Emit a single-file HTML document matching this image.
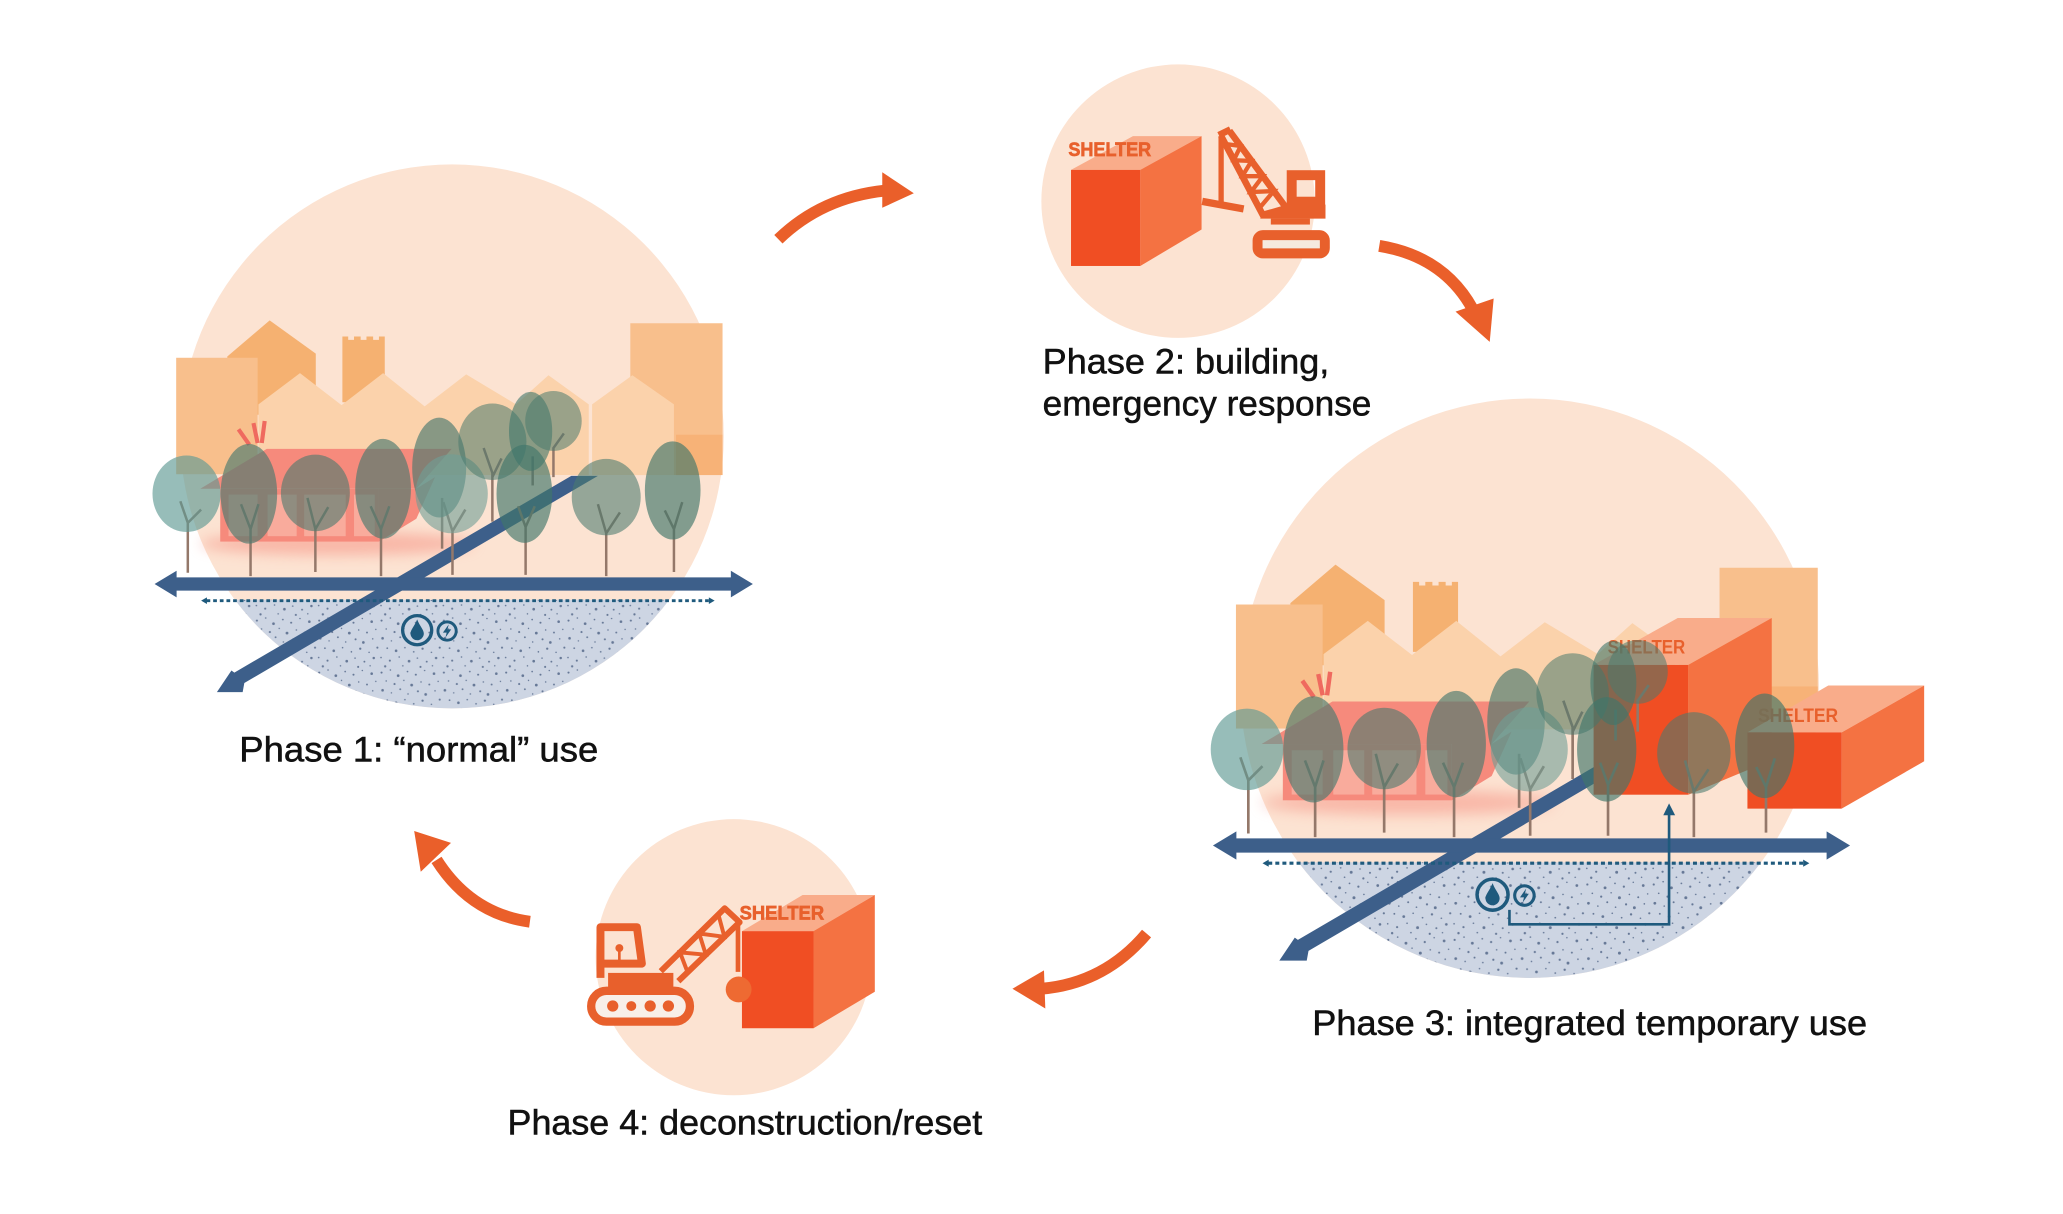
<!DOCTYPE html>
<html><head><meta charset="utf-8"><style>
html,body{margin:0;padding:0;background:#fff;width:2063px;height:1214px;overflow:hidden}
svg{display:block}
text{font-family:"Liberation Sans",sans-serif}
.lbl{font-size:27px;fill:#111;stroke:#111;stroke-width:.4}
.sh{font-weight:bold;fill:#e8602c}
</style></head><body>
<svg xmlns="http://www.w3.org/2000/svg" width="2063" height="1214" viewBox="0 0 1569 923.3">
<defs>
<filter id="blur" x="-30%" y="-100%" width="160%" height="300%"><feGaussianBlur stdDeviation="16"/></filter>
<pattern id="dots" width="120" height="100" patternUnits="userSpaceOnUse" patternTransform="scale(1.25)">
<rect width="120" height="100" fill="#cdd5e3"/>
<g fill="#3e5479" opacity=".72">
<circle cx="5" cy="8" r="2"/><circle cx="22" cy="3" r="1.5"/><circle cx="37" cy="14" r="2.6"/><circle cx="55" cy="6" r="1.6"/><circle cx="71" cy="12" r="2"/><circle cx="88" cy="4" r="1.4"/><circle cx="106" cy="10" r="2.5"/>
<circle cx="14" cy="24" r="1.5"/><circle cx="30" cy="30" r="2"/><circle cx="48" cy="23" r="1.4"/><circle cx="63" cy="32" r="2.7"/><circle cx="81" cy="26" r="1.5"/><circle cx="97" cy="31" r="1.8"/><circle cx="114" cy="25" r="1.4"/>
<circle cx="7" cy="42" r="2.5"/><circle cx="24" cy="47" r="1.4"/><circle cx="41" cy="40" r="1.8"/><circle cx="56" cy="49" r="1.5"/><circle cx="75" cy="44" r="2"/><circle cx="90" cy="50" r="2.6"/><circle cx="108" cy="43" r="1.5"/>
<circle cx="16" cy="61" r="1.7"/><circle cx="33" cy="66" r="2.5"/><circle cx="50" cy="60" r="1.5"/><circle cx="67" cy="68" r="1.6"/><circle cx="84" cy="62" r="2.2"/><circle cx="101" cy="69" r="1.5"/><circle cx="117" cy="60" r="2"/>
<circle cx="4" cy="79" r="1.5"/><circle cx="21" cy="85" r="2"/><circle cx="39" cy="78" r="1.5"/><circle cx="58" cy="86" r="2.6"/><circle cx="74" cy="80" r="1.5"/><circle cx="92" cy="87" r="1.8"/><circle cx="110" cy="80" r="2.4"/>
<circle cx="12" cy="96" r="2.2"/><circle cx="46" cy="95" r="1.5"/><circle cx="80" cy="97" r="2"/><circle cx="103" cy="95" r="1.4"/>
</g>
</pattern>
<clipPath id="circ"><circle cx="776" cy="692" r="654"/></clipPath>

<g id="bg">
<circle cx="776" cy="692" r="654" fill="#fce3d2"/>
<rect x="100" y="1085" width="1360" height="300" fill="url(#dots)" clip-path="url(#circ)"/>
</g>

<g id="city">
<polygon points="235,500 337,413 448,493 448,640 235,640" fill="#f5b171"/>
<path d="M512,610V452h14v8h14v-8h16v8h14v-8h16v8h14v-8h14V610Z" fill="#f5b171"/>
<polygon points="310,615 410,540 510,617 610,540 710,620 810,543 930,615 1008,545 1105,615 1105,785 310,785" fill="#fbd2ab"/>
<rect x="112" y="503" width="196" height="280" fill="#f8bf8c"/>
<rect x="1205" y="420" width="222" height="365" fill="#f8bf8c"/>
<polygon points="1113,615 1210,545 1310,615 1310,785 1113,785" fill="#fbd2ab"/>
<rect x="1315" y="688" width="112" height="97" fill="#f7b277"/>
<ellipse cx="500" cy="950" rx="330" ry="28" fill="#f58a7c" opacity=".5" filter="url(#blur)"/>
<polygon points="170,818 330,722 775,722 690,818" fill="#f68a7c"/>
<polygon points="600,945 690,890 735,790 690,818 600,818" fill="#f68a7c"/>
<rect x="218" y="818" width="382" height="127" fill="#f68a7c"/>
<g fill="#f9ab9c"><rect x="238" y="832" width="70" height="100"/><rect x="332" y="832" width="70" height="100"/><rect x="420" y="832" width="100" height="100"/><rect x="540" y="832" width="50" height="100"/></g>
<g stroke="#ef6a5f" stroke-width="10" fill="none"><path d="M262,675 288,712M298,660 308,708M325,655 318,708"/></g>
</g>

<polygon id="diag" points="1063,787 1127,787 276,1285 272,1307 210,1307 245,1255 252,1260" fill="#3d5f8a"/>

<g id="trees">
<g stroke="#94786a" stroke-width="6" fill="none">
<path d="M140,1020V900L122,848M140,900L172,868"/>
<path d="M291,1028V915L268,855M291,915L310,855"/>
<path d="M447,1018V915L428,840M447,915L478,862"/>
<path d="M605,1028V915L580,860M605,915L625,860"/>
<path d="M752,962V840"/>
<path d="M777,1025V920L755,850M777,920L808,868"/>
<path d="M873,897V780L852,720M873,790L895,745"/>
<path d="M953,1025V910L935,860M953,910L975,860"/>
<path d="M970,810V740"/>
<path d="M1020,790V720L1045,685"/>
<path d="M1147,1028V925L1127,855M1147,925L1180,875"/>
<path d="M1310,1018V915L1288,870M1310,915L1330,850"/>
</g>
<ellipse cx="137" cy="830" rx="82" ry="92" fill="#5f9a94" opacity=".65"/>
<ellipse cx="287" cy="830" rx="68" ry="120" fill="#4a7a6e" opacity=".65"/>
<ellipse cx="447" cy="828" rx="83" ry="92" fill="#4a7a6e" opacity=".6"/>
<ellipse cx="610" cy="818" rx="67" ry="120" fill="#4a7a6e" opacity=".65"/>
<ellipse cx="745" cy="767" rx="65" ry="120" fill="#4a7a6e" opacity=".65"/>
<ellipse cx="775" cy="830" rx="87" ry="95" fill="#6f9e96" opacity=".6"/>
<ellipse cx="873" cy="705" rx="82" ry="92" fill="#4a7a6e" opacity=".55"/>
<ellipse cx="950" cy="830" rx="67" ry="118" fill="#40766a" opacity=".65"/>
<ellipse cx="965" cy="680" rx="52" ry="95" fill="#40766a" opacity=".6"/>
<ellipse cx="1020" cy="655" rx="68" ry="72" fill="#4a7a6e" opacity=".55"/>
<ellipse cx="1147" cy="838" rx="83" ry="92" fill="#4a7a6e" opacity=".58"/>
<ellipse cx="1307" cy="822" rx="67" ry="118" fill="#40766a" opacity=".65"/>
</g>

<g id="roads">
<polygon points="60,1047 113,1015 113,1031 1447,1031 1447,1015 1500,1047 1447,1079 1447,1063 113,1063 113,1079" fill="#3d5f8a"/>
<path d="M185,1087H1395" stroke="#1f5a7d" stroke-width="7" stroke-dasharray="9 7" fill="none"/>
<polygon points="172,1087 186,1079 186,1095" fill="#1f5a7d"/>
<polygon points="1408,1087 1394,1079 1394,1095" fill="#1f5a7d"/>
<g fill="none" stroke="#1f5a7d">
<circle cx="692" cy="1158" r="35" stroke-width="8"/>
<circle cx="764" cy="1160" r="22" stroke-width="7"/>
</g>
<path d="M692,1132C686,1148 676,1157 676,1166A16,16 0 0 0 708,1166C708,1157 698,1148 692,1132Z" fill="#1f5a7d"/>
<path d="M768,1144L754,1164H763L760,1176L774,1156H765Z" fill="#1f5a7d"/>
</g>
</defs>

<!-- Phase 1 -->
<g transform="translate(98.6,113) scale(.316,.3163)">
<use href="#bg"/><use href="#city"/><use href="#diag"/><use href="#trees"/><use href="#roads"/>
</g>
<text class="lbl" x="182" y="579" textLength="273" lengthAdjust="spacingAndGlyphs">Phase 1: “normal” use</text>

<!-- Phase 3 -->
<g transform="translate(902.3,290.3) scale(.3365,.3369)">
<use href="#bg"/><use href="#city"/><use href="#diag"/>
</g>
<polygon points="1212,505.7 1276,470 1347.5,470 1284,505.7" fill="#f9ac8a"/>
<polygon points="1284,505.7 1347.5,470 1347.5,578 1284,604.4" fill="#f47242"/>
<rect x="1212" y="505.7" width="72" height="98.7" fill="#f04e23"/>
<text class="sh" x="1222.7" y="497" font-size="14.5" textLength="59" lengthAdjust="spacingAndGlyphs">SHELTER</text>
<polygon points="1329,557 1390.5,521.4 1463.4,521.4 1400.7,557" fill="#f9ac8a"/>
<polygon points="1400.7,557 1463.4,521.4 1463.4,579 1400.7,615" fill="#f47242"/>
<rect x="1329" y="557" width="71.7" height="58" fill="#f04e23"/>
<text class="sh" x="1337" y="549" font-size="14.5" textLength="61" lengthAdjust="spacingAndGlyphs">SHELTER</text>
<g transform="translate(902.3,290.3) scale(.3365,.3369)">
<use href="#trees"/><use href="#roads"/>
</g>
<path d="M1148,692V703H1269.4V618" fill="none" stroke="#1f5a7d" stroke-width="2"/>
<polygon points="1269.4,611 1265,620 1274,620" fill="#1f5a7d"/>
<text class="lbl" x="998" y="787" textLength="422" lengthAdjust="spacingAndGlyphs">Phase 3: integrated temporary use</text>

<!-- Phase 2 -->
<circle cx="896" cy="153" r="104" fill="#fce3d2"/>
<g transform="translate(776,41) scale(.252)">
<polygon points="153,350 340,248 547,248 362,350" fill="#f9ac8a"/>
<polygon points="362,350 547,248 547,530 362,640" fill="#f47242"/>
<rect x="153" y="350" width="209" height="290" fill="#f04e23"/>
<text class="sh" x="145" y="308" font-size="58" textLength="250" lengthAdjust="spacingAndGlyphs" stroke="#e8602c" stroke-width="2">SHELTER</text>
<g transform="translate(9,0)">
<g fill="none" stroke="#e8602c">
<path d="M597,248 725,490M622,232 790,460M590,245 625,228" stroke-width="20"/>
<polyline points="610,272 656,278 635,321 689,323 661,369 723,369 687,417 756,414 712,466" stroke-width="13"/>
<path d="M597,248V450" stroke-width="16"/>
<path d="M540,445 665,468" stroke-width="22"/>
<rect x="810" y="366" width="86" height="80" stroke-width="30"/>
<rect x="707" y="547" width="203" height="55" rx="16" stroke-width="30" fill="#f5eadf"/>
</g>
<polygon points="715,497 912,497 912,455 795,455 725,475" fill="#e8602c"/>
<rect x="747" y="497" width="118" height="18" fill="#e8602c"/>
</g>
</g>
<text class="lbl" x="793" y="284" textLength="218" lengthAdjust="spacingAndGlyphs">Phase 2: building,</text>
<text class="lbl" x="793" y="316" textLength="250" lengthAdjust="spacingAndGlyphs">emergency response</text>

<!-- Phase 4 -->
<circle cx="558" cy="728" r="105" fill="#fce3d2"/>
<g transform="translate(434,653.5) scale(.252)">
<polygon points="517,217 700,108 918,108 733,217" fill="#f9ac8a"/>
<polygon points="733,217 918,108 918,400 733,510" fill="#f47242"/>
<rect x="517" y="217" width="216" height="293" fill="#f04e23"/>
<text class="sh" x="510" y="182" font-size="58" textLength="255" lengthAdjust="spacingAndGlyphs" stroke="#e8602c" stroke-width="2">SHELTER</text>
<g fill="none" stroke="#e8602c">
<rect x="62" y="397" width="298" height="93" rx="46" stroke-width="25" fill="#f8efe8"/>
<path d="M90,358V205H200L215,315H90" stroke-width="24" stroke-linejoin="round"/>
<path d="M147,268V315" stroke-width="8"/>
<path d="M272,338 465,148 510,190 325,368" stroke-width="18" stroke-linejoin="round"/>
<polyline points="353,341 330,281 408,288 388,224 464,234 446,167" stroke-width="12"/>
<path d="M505,190V340" stroke-width="14"/>
</g>
<circle cx="147" cy="268" r="12" fill="#e8602c"/>
<rect x="113" y="343" width="197" height="52" fill="#e8602c"/>
<g fill="#e8602c"><circle cx="127" cy="443" r="17"/><circle cx="183" cy="443" r="15"/><circle cx="240" cy="443" r="17"/><circle cx="295" cy="443" r="17"/></g>
<circle cx="507" cy="393" r="39" fill="#ee6a32"/>
</g>
<text class="lbl" x="386" y="863" textLength="361" lengthAdjust="spacingAndGlyphs">Phase 4: deconstruction/reset</text>

<!-- cycle arrows -->
<g fill="none" stroke="#ea5f2a" stroke-width="9">
<path d="M592,182Q625,150 673,145"/>
<path d="M1049,187Q1098,195 1120,235"/>
<path d="M872,710Q840,748 792,752"/>
<path d="M403,701Q358,695 332,654"/>
</g>
<g fill="#ea5f2a">
<polygon points="671,131 695,147 671,158"/>
<polygon points="1107,237 1136,227 1133,260"/>
<polygon points="794,738 770,752 795,767"/>
<polygon points="343,641 315,632 320,663"/>
</g>
</svg>
</body></html>
